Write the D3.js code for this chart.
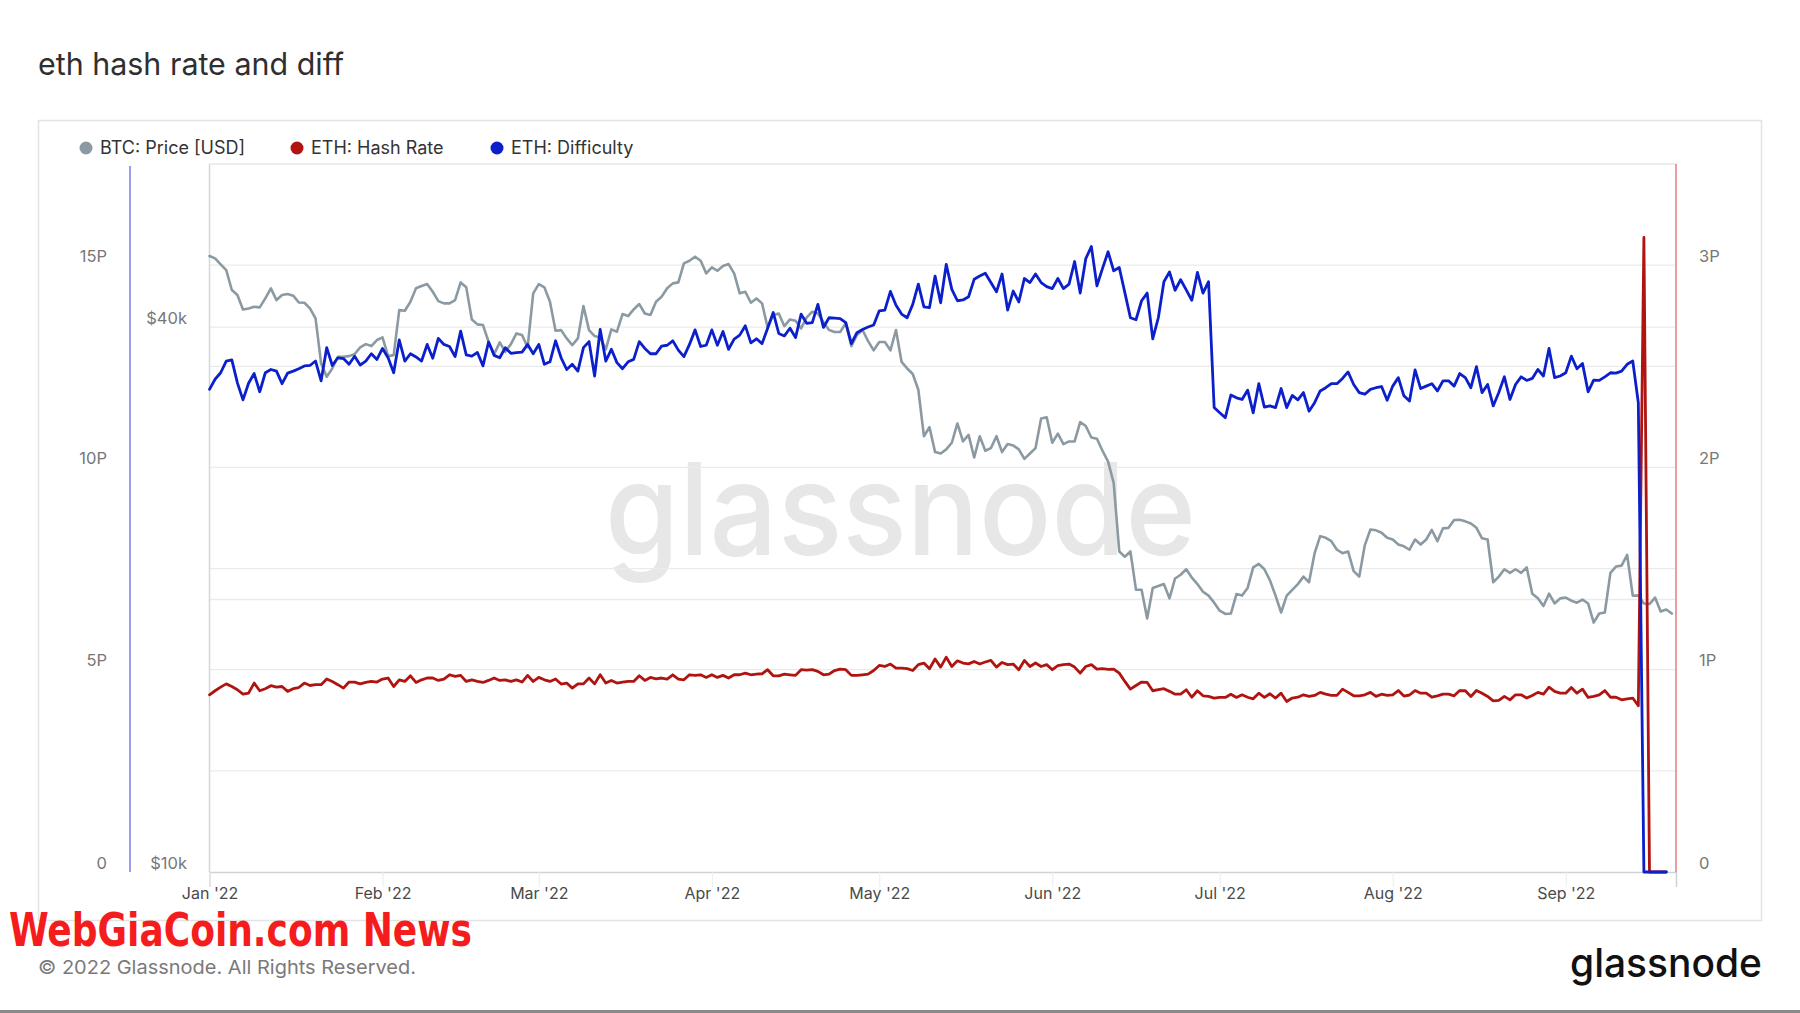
<!DOCTYPE html>
<html><head><meta charset="utf-8">
<script src="https://cdn.jsdelivr.net/npm/d3@7"></script>
<style>
html,body{margin:0;padding:0;background:#fff;}
svg{display:block;font-family:Inter,"Noto Sans",sans-serif;}
</style></head><body>
<svg id="chart" width="1800" height="1013"></svg>
<script>
// ---------- DATA ----------
const seriesStart = "2022-01-01"; // first daily point
const seriesNames = ["BTC: Price [USD]", "ETH: Hash Rate", "ETH: Difficulty"];
const monthTicks = ["2022-01-01","2022-02-01","2022-03-01","2022-04-01","2022-05-01","2022-06-01","2022-07-01","2022-08-01","2022-09-01"];
const difficultyTicks = [0, 5, 10, 15];          // P
const difficultyGrid = [2.5, 5, 7.5, 10, 12.5, 15];
const hashRateTicks = [0, 1, 2, 3];              // P
const priceTicks = [10, 40];                     // $k
const priceGrid = [20, 40];

// ETH difficulty, P (daily from Jan 1 2022)
const difficultyP = [
11.93,12.18,12.34,12.63,12.66,12.09,11.67,12.08,12.32,11.87,
12.34,12.42,12.38,12.07,12.33,12.38,12.44,12.51,12.52,12.63,
12.14,12.96,12.52,12.71,12.69,12.55,12.75,12.53,12.63,12.81,
12.67,12.94,12.71,12.34,13.15,12.63,12.81,12.73,12.63,13.04,
12.70,13.19,13.04,12.99,12.74,13.37,12.78,12.75,12.84,12.51,
13.10,12.77,12.71,12.96,12.82,12.84,12.85,13.04,12.81,13.04,
12.55,12.61,13.13,12.71,12.42,12.55,12.38,12.96,13.11,12.26,
13.41,12.63,12.92,12.59,12.44,12.61,12.67,13.11,12.94,12.81,
12.81,13.00,13.02,13.13,12.90,12.74,13.04,13.40,12.99,13.02,
13.40,13.02,13.36,12.92,13.17,13.27,13.50,13.08,13.18,13.06,
13.44,13.83,13.31,13.25,13.44,13.21,13.79,13.56,13.58,14.03,
13.46,13.70,13.69,13.68,13.58,13.06,13.33,13.41,13.47,13.52,
13.87,13.89,14.35,14.01,13.79,13.70,14.03,14.53,13.97,13.95,
14.73,14.07,15.02,14.40,14.12,14.14,14.22,14.65,14.73,14.80,
14.57,14.34,14.78,13.89,14.36,14.09,14.67,14.57,14.78,14.57,
14.47,14.42,14.67,14.42,14.53,15.09,14.31,15.16,15.46,14.49,
14.92,15.33,14.86,14.94,14.32,13.70,13.65,14.12,14.31,13.18,
13.70,14.59,14.83,14.38,14.64,14.39,14.13,14.82,14.31,14.59,
11.48,11.35,11.23,11.79,11.72,11.68,11.91,11.35,12.07,11.49,
11.52,11.48,11.95,11.48,11.78,11.67,11.85,11.39,11.60,11.89,
11.97,12.07,12.07,12.20,12.36,12.05,11.85,11.81,11.93,11.97,
12.00,11.66,12.01,12.22,11.77,11.64,12.41,11.95,12.01,12.07,
11.89,12.14,12.14,12.01,12.32,12.22,11.97,12.49,11.85,12.05,
11.52,11.85,12.24,11.68,12.05,12.24,12.15,12.20,12.42,12.26,
12.94,12.22,12.26,12.34,12.75,12.44,12.57,11.87,12.16,12.15,
12.24,12.34,12.33,12.38,12.55,12.63,11.60,0,0,0,
0,0
];

// ETH hash rate, P (daily from Jan 1 2022)
const hashRateP = [
0.876,0.896,0.914,0.930,0.917,0.901,0.879,0.884,0.934,0.896,
0.906,0.921,0.914,0.917,0.893,0.906,0.912,0.934,0.922,0.926,
0.926,0.954,0.942,0.926,0.909,0.939,0.939,0.930,0.937,0.942,
0.939,0.954,0.959,0.917,0.950,0.942,0.970,0.937,0.950,0.959,
0.959,0.947,0.954,0.975,0.967,0.972,0.942,0.950,0.942,0.937,
0.947,0.959,0.947,0.950,0.942,0.950,0.939,0.972,0.942,0.962,
0.950,0.942,0.954,0.929,0.934,0.909,0.930,0.930,0.959,0.930,
0.975,0.934,0.947,0.934,0.939,0.942,0.942,0.970,0.947,0.962,
0.955,0.959,0.954,0.975,0.954,0.950,0.975,0.972,0.975,0.962,
0.975,0.962,0.972,0.959,0.975,0.975,0.983,0.975,0.978,0.980,
1.000,0.970,0.970,0.978,0.975,0.972,1.000,0.998,1.000,0.992,
0.975,0.978,0.996,1.003,1.000,0.972,0.972,0.975,0.978,0.996,
1.021,1.016,1.028,1.008,1.008,1.005,0.996,1.025,1.033,1.005,
1.053,1.013,1.062,1.016,1.044,1.033,1.029,1.041,1.028,1.038,
1.046,1.013,1.036,1.025,1.028,1.000,1.046,1.016,1.033,1.016,
1.025,1.000,1.020,1.025,1.028,1.013,0.983,1.016,1.025,1.003,
1.005,1.002,1.003,0.983,0.942,0.904,0.922,0.939,0.937,0.896,
0.901,0.906,0.893,0.879,0.879,0.901,0.864,0.896,0.871,0.868,
0.860,0.863,0.863,0.879,0.863,0.876,0.864,0.856,0.884,0.863,
0.881,0.860,0.884,0.843,0.860,0.864,0.876,0.868,0.873,0.888,
0.879,0.873,0.873,0.904,0.888,0.871,0.871,0.876,0.888,0.868,
0.879,0.873,0.876,0.897,0.870,0.875,0.897,0.884,0.884,0.864,
0.871,0.879,0.879,0.871,0.897,0.896,0.868,0.897,0.884,0.868,
0.846,0.848,0.868,0.851,0.876,0.876,0.860,0.873,0.888,0.879,
0.914,0.893,0.884,0.884,0.912,0.884,0.904,0.863,0.868,0.876,
0.897,0.864,0.864,0.851,0.856,0.860,0.822,3.137,0,0,
0,0
];

// BTC price, thousands of USD (daily from Jan 1 2022)
const btcPriceK = [
47.92,47.63,46.91,46.24,43.95,43.40,41.83,41.94,42.12,42.05,
43.02,44.14,42.84,43.40,43.51,43.32,42.58,42.55,41.94,40.89,
36.46,35.25,36.00,37.09,37.09,37.15,37.34,37.98,38.30,38.11,
38.70,38.96,37.15,37.24,41.76,41.69,42.66,44.14,44.40,44.62,
43.76,42.73,42.48,42.48,42.84,44.81,44.25,40.78,40.27,40.20,
38.53,37.34,38.47,37.56,38.30,39.36,39.19,38.00,43.58,44.62,
44.25,42.66,39.62,39.69,38.86,38.21,38.86,42.19,39.69,39.09,
38.96,37.79,39.76,39.53,41.34,41.13,41.83,42.41,41.40,41.24,
42.66,43.21,44.14,44.70,44.81,47.03,47.35,47.84,47.35,45.85,
46.56,46.16,46.71,46.95,45.85,43.58,43.76,42.55,43.02,42.48,
39.96,41.24,41.40,40.09,40.78,40.64,39.86,40.99,41.59,41.40,
40.50,39.70,39.50,39.50,40.40,38.10,39.20,39.70,38.60,37.70,
38.50,38.50,37.70,39.70,36.60,36.00,35.50,34.10,30.30,31.00,
29.10,29.00,29.30,29.80,31.30,29.90,30.40,28.70,30.30,29.20,
29.40,30.30,29.10,29.70,29.60,29.30,28.60,29.00,29.40,31.70,
31.80,29.80,30.50,29.70,29.90,29.90,31.40,31.10,30.20,30.10,
29.20,28.40,26.90,22.60,22.30,22.60,20.50,20.50,19.06,20.60,
20.70,20.80,20.06,21.10,21.30,21.60,21.15,20.80,20.40,20.20,
19.84,19.44,19.28,19.30,20.28,20.20,20.60,21.70,21.90,21.60,
21.00,20.20,19.35,20.20,20.50,20.80,21.20,20.90,22.50,23.50,
23.40,23.20,22.70,22.50,22.60,21.50,21.20,22.97,23.90,23.85,
23.70,23.40,23.30,23.00,22.90,22.70,23.30,23.00,23.30,23.87,
23.20,23.97,24.00,24.48,24.50,24.40,24.27,24.00,23.37,23.30,
20.90,21.20,21.60,21.40,21.60,21.40,21.70,20.30,20.06,19.67,
20.30,19.80,20.06,20.10,19.94,19.84,20.00,19.80,18.86,19.30,
19.35,21.40,21.75,21.80,22.40,20.20,20.20,19.80,19.77,20.10,
19.40,19.50,19.30
];

// ---------- LAYOUT ----------
const plot = {left: 209.5, right: 1676, top: 164, bottom: 872};
const colors = {price: "#8b9aa2", hash: "#af1410", diff: "#0b1fcb"};
const svg = d3.select("#chart");

const parse = d3.utcParse("%Y-%m-%d");
const t0 = parse(seriesStart);
const dateAt = i => d3.utcDay.offset(t0, i);

const x = d3.scaleUtc()
  .domain([t0, new Date(Date.UTC(2022, 8, 20, 18))])
  .range([plot.left, plot.right]);
const yDiff = d3.scaleLinear().domain([0, 17.5]).range([plot.bottom, plot.top]);
const yHash = d3.scaleLinear().domain([0, 3.5]).range([plot.bottom, plot.top]);
const yPrice = d3.scaleLog().domain([10, 60.56]).range([plot.bottom, plot.top]);

// background + panel
svg.append("rect").attr("width", 1800).attr("height", 1013).attr("fill", "#fff");
svg.append("rect").attr("x", 38.5).attr("y", 120.5).attr("width", 1723).attr("height", 800)
  .attr("fill", "none").attr("stroke", "#e3e3e3").attr("stroke-width", 1.5);

// title
svg.append("text").attr("x", 38).attr("y", 75).text("eth hash rate and diff")
  .attr("font-size", 31).attr("fill", "#2f2f2f").attr("textLength", 306).attr("lengthAdjust", "spacingAndGlyphs");

// legend
const legendPos = [{cx: 86, tx: 100, c: colors.price}, {cx: 297, tx: 311, c: colors.hash}, {cx: 497, tx: 511, c: colors.diff}];
const lg = svg.append("g");
seriesNames.forEach((n, i) => {
  lg.append("circle").attr("cx", legendPos[i].cx).attr("cy", 148).attr("r", 6.5).attr("fill", legendPos[i].c);
  lg.append("text").attr("x", legendPos[i].tx).attr("y", 148).attr("dy", "0.35em")
    .attr("font-size", 18).attr("fill", "#333").text(n);
});

// watermark
svg.append("text").attr("x", 605).attr("y", 555).text("glassnode")
  .attr("font-size", 128).attr("font-weight", 500).attr("fill", "#e7e7e7")
  .attr("textLength", 591).attr("lengthAdjust", "spacingAndGlyphs");

// gridlines
const grid = svg.append("g");
difficultyGrid.forEach(v => grid.append("line").attr("x1", plot.left).attr("x2", plot.right)
  .attr("y1", yDiff(v)).attr("y2", yDiff(v)).attr("stroke", "#ebebeb").attr("stroke-width", 1.3));
priceGrid.forEach(v => grid.append("line").attr("x1", plot.left).attr("x2", plot.right)
  .attr("y1", yPrice(v)).attr("y2", yPrice(v)).attr("stroke", "#ebebeb").attr("stroke-width", 1.3));
// plot frame
grid.append("line").attr("x1", plot.left).attr("x2", plot.right).attr("y1", plot.top).attr("y2", plot.top).attr("stroke", "#e6e6e6").attr("stroke-width", 1.3);
grid.append("line").attr("x1", plot.left).attr("x2", plot.left).attr("y1", plot.top).attr("y2", plot.bottom).attr("stroke", "#d3d6d9").attr("stroke-width", 1.5);

// x axis
const xAxis = svg.append("g").attr("transform", `translate(0,${plot.bottom})`)
  .call(d3.axisBottom(x).tickValues(monthTicks.map(parse)).tickFormat(d3.utcFormat("%b '%y")).tickSize(15));
xAxis.select(".domain").attr("stroke", "#cdd2d6").attr("stroke-width", 1.5);
xAxis.selectAll(".tick line").attr("stroke", "#ececec");
xAxis.selectAll(".tick text").attr("y", 26.5).attr("dy", 0).attr("font-size", 16).attr("fill", "#4a4a4a")
  .attr("font-family", "Inter, sans-serif");

// left difficulty axis
const dAxis = svg.append("g").attr("transform", "translate(107,0)")
  .call(d3.axisLeft(yDiff).tickValues(difficultyTicks).tickFormat(d => d === 0 ? "0" : d + "P").tickSize(0).tickPadding(0));
dAxis.select(".domain").remove();
dAxis.selectAll("text").attr("y", -9).attr("font-size", 16.5).attr("fill", "#777").attr("font-family", "Inter, sans-serif");
svg.append("line").attr("x1", 130).attr("x2", 130).attr("y1", 166).attr("y2", plot.bottom)
  .attr("stroke", "#8f93ea").attr("stroke-width", 1.8);

// price axis
const pAxis = svg.append("g").attr("transform", "translate(187,0)")
  .call(d3.axisLeft(yPrice).tickValues(priceTicks).tickFormat(d => "$" + d + "k").tickSize(0).tickPadding(0));
pAxis.select(".domain").remove();
pAxis.selectAll("text").attr("y", -9).attr("font-size", 16.5).attr("fill", "#777").attr("font-family", "Inter, sans-serif");

// right hash-rate axis
const hAxis = svg.append("g").attr("transform", "translate(1699,0)")
  .call(d3.axisRight(yHash).tickValues(hashRateTicks).tickFormat(d => d === 0 ? "0" : d + "P").tickSize(0).tickPadding(0));
hAxis.select(".domain").remove();
hAxis.selectAll("text").attr("y", -9).attr("font-size", 16.5).attr("fill", "#777").attr("font-family", "Inter, sans-serif");
svg.append("line").attr("x1", plot.right).attr("x2", plot.right).attr("y1", plot.top).attr("y2", plot.bottom)
  .attr("stroke", "#e99393").attr("stroke-width", 1.8);

// series
const mk = (arr, y) => d3.line().x((d, i) => x(dateAt(i))).y(d => y(d))(arr);
const lines = svg.append("g").attr("fill", "none").attr("stroke-linejoin", "round").attr("stroke-linecap", "round");
lines.append("path").attr("d", mk(btcPriceK, yPrice)).attr("stroke", colors.price).attr("stroke-width", 2.6);
lines.append("path").attr("d", mk(hashRateP, yHash)).attr("stroke", colors.hash).attr("stroke-width", 2.8);
lines.append("path").attr("d", mk(difficultyP, yDiff)).attr("stroke", colors.diff).attr("stroke-width", 2.8);

// footer
svg.append("text").attr("x", 9).attr("y", 946).text("WebGiaCoin.com News")
  .attr("font-family", "'Liberation Sans Narrow','DejaVu Sans Condensed',sans-serif").attr("font-weight", 700)
  .attr("font-size", 46).attr("fill", "#f41c1c").attr("textLength", 463).attr("lengthAdjust", "spacingAndGlyphs");
svg.append("text").attr("x", 38).attr("y", 974).text("© 2022 Glassnode. All Rights Reserved.")
  .attr("font-size", 19).attr("fill", "#7a7a7a").attr("textLength", 378).attr("lengthAdjust", "spacingAndGlyphs");
svg.append("text").attr("x", 1570).attr("y", 977).text("glassnode")
  .attr("font-size", 40).attr("font-weight", 500).attr("fill", "#111")
  .attr("textLength", 192).attr("lengthAdjust", "spacingAndGlyphs");
svg.append("rect").attr("x", 0).attr("y", 1010).attr("width", 1800).attr("height", 3).attr("fill", "#8a8a8a");
</script>
</body></html>
